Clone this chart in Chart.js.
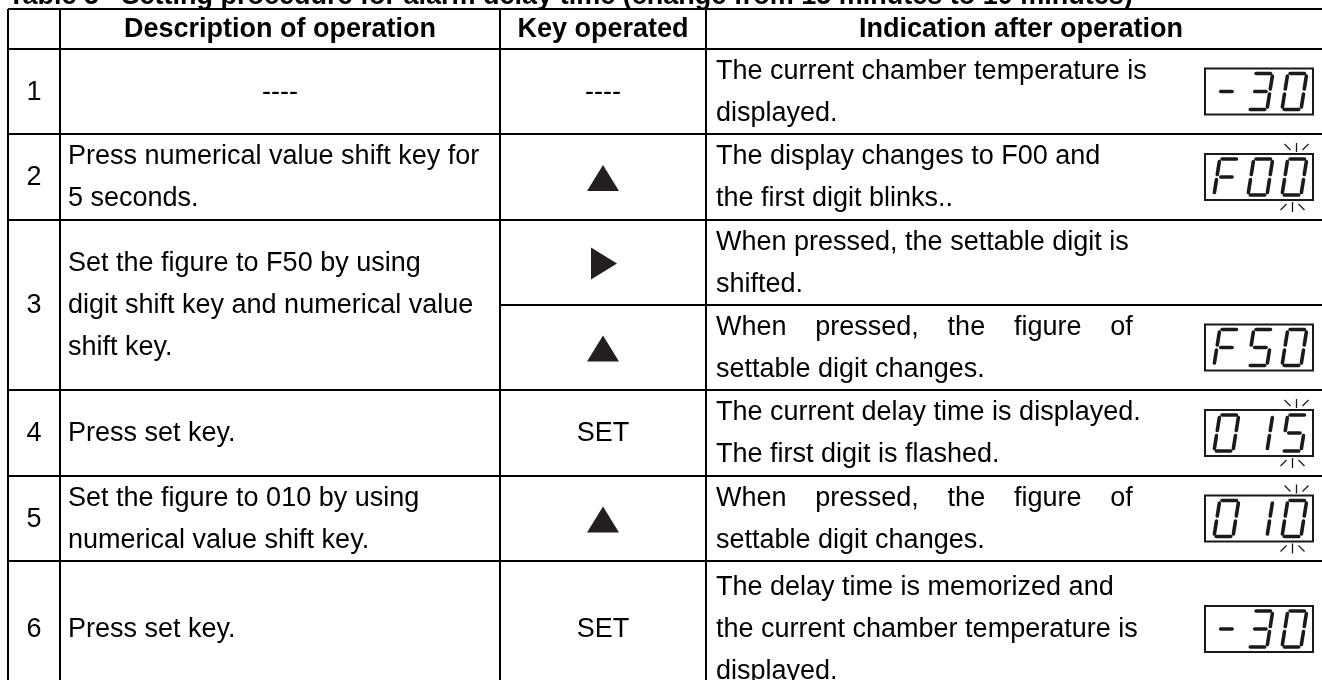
<!DOCTYPE html>
<html>
<head>
<meta charset="utf-8">
<script src="https://cdn.jsdelivr.net/npm/chart.js@4.4.1/dist/chart.umd.min.js"></script>
<style>
  html, body { margin: 0; padding: 0; background: #fff; overflow: hidden; }
</style>
</head>
<body>
<canvas id="table" width="1322" height="680"></canvas>
<script>
// --- table content ---
const titleText = 'Table 5   Setting procedure for alarm delay time (change from 15 minutes to 10 minutes)';
const headers = ['', 'Description of operation', 'Key operated', 'Indication after operation'];
const stepLabels = ['1', '2', '3', '4', '5', '6'];
const operations = [
  ['----'],
  ['Press numerical value shift key for', '5 seconds.'],
  ['Set the figure to F50 by using', 'digit shift key and numerical value', 'shift key.'],
  ['Press set key.'],
  ['Set the figure to 010 by using', 'numerical value shift key.'],
  ['Press set key.']
];
// one entry per sub-row (step 3 is split in two)
const rowSteps = [0, 1, 2, 2, 3, 4, 5];
const keysOperated = ['----', 'up', 'right', 'up', 'SET', 'up', 'SET'];
const indications = [
  ['The current chamber temperature is', 'displayed.'],
  ['The display changes to F00 and', 'the first digit blinks..'],
  ['When pressed, the settable digit is', 'shifted.'],
  ['When pressed, the figure of', 'settable digit changes.'],
  ['The current delay time is displayed.', 'The first digit is flashed.'],
  ['When pressed, the figure of', 'settable digit changes.'],
  ['The delay time is memorized and', 'the current chamber temperature is', 'displayed.']
];
const readings = ['-30', 'F00', '', 'F50', '015', '010', '-30'];
const blinks = [false, true, false, false, true, true, false];
const justifiedLines = ['When pressed, the figure of'];

// --- layout, in scale units (1 unit = 1 px) ---
const colEdges = [8, 60, 500, 706, 1336];
const rowEdges = [9, 49, 134, 220, 305, 390, 476, 561, 697];
const lineGap = 42;
const bodyFont = '27px "Liberation Sans", Arial, sans-serif';
const boldFont = 'bold 27px "Liberation Sans", Arial, sans-serif';

// seven segment layout: [u0, v0, u1, v1], v measured from the bottom
const SEGS = {
  a: [0.12, 1, 0.88, 1], b: [1, 0.93, 1, 0.57], c: [1, 0.43, 1, 0.07],
  d: [0.12, 0, 0.88, 0], e: [0, 0.43, 0, 0.07], f: [0, 0.93, 0, 0.57],
  g: [0.2, 0.5, 0.8, 0.5]
};
const GLYPHS = { '0': 'abcdef', '1': 'bc', '3': 'abcdg', '5': 'acdfg', 'F': 'aefg', '-': 'g', ' ': '' };

function drawDigit(ctx, ch, x0, yb, w, h, slant) {
  const segs = GLYPHS[ch] || '';
  ctx.lineWidth = 3.6;
  ctx.lineCap = 'round';
  for (const s of segs) {
    const [u0, v0, u1, v1] = SEGS[s];
    ctx.beginPath();
    ctx.moveTo(x0 + u0 * w + v0 * h * slant, yb - v0 * h);
    ctx.lineTo(x0 + u1 * w + v1 * h * slant, yb - v1 * h);
    ctx.stroke();
  }
}

function drawReading(ctx, text, blink, xs, ys, cy) {
  const left = xs(1205), right = xs(1313);
  const top = ys(cy - 23), bottom = ys(cy + 23);
  ctx.strokeStyle = '#1a1a1a';
  ctx.lineWidth = 2;
  ctx.strokeRect(left, top, right - left, bottom - top);
  const slots = [1214, 1248, 1282];
  const w = 19, h = 36, slant = 0.16;
  for (let i = 0; i < 3; i++) {
    drawDigit(ctx, text[i], xs(slots[i]), ys(cy + 18), w, h, slant);
  }
  if (blink) {
    const cx = xs(slots[2] + w / 2 + 3);
    ctx.lineWidth = 1.3;
    ctx.lineCap = 'butt';
    const seg = (x1, y1, x2, y2) => { ctx.beginPath(); ctx.moveTo(x1, y1); ctx.lineTo(x2, y2); ctx.stroke(); };
    // rays above
    seg(cx + 2, top - 11, cx + 2, top - 2);
    seg(cx - 10, top - 10, cx - 4, top - 4);
    seg(cx + 14, top - 10, cx + 8, top - 4);
    // rays below
    seg(cx - 2, bottom + 2, cx - 2, bottom + 12);
    seg(cx - 8, bottom + 4, cx - 14, bottom + 10);
    seg(cx + 4, bottom + 4, cx + 10, bottom + 10);
  }
}

function drawKey(ctx, key, cx, cy) {
  ctx.fillStyle = '#231f20';
  if (key === 'up') {
    ctx.beginPath();
    ctx.moveTo(cx - 16, cy + 13); ctx.lineTo(cx + 16, cy + 13); ctx.lineTo(cx, cy - 13);
    ctx.closePath(); ctx.fill();
  } else if (key === 'right') {
    ctx.beginPath();
    ctx.moveTo(cx - 12, cy - 16); ctx.lineTo(cx - 12, cy + 16); ctx.lineTo(cx + 14, cy);
    ctx.closePath(); ctx.fill();
  } else {
    ctx.fillStyle = '#000';
    ctx.font = bodyFont;
    ctx.textAlign = 'center';
    ctx.fillText(key, cx, cy);
  }
}

function drawLines(ctx, lines, x, cy, align, justifyTo) {
  ctx.textAlign = align;
  const y0 = cy - (lines.length - 1) * lineGap / 2;
  lines.forEach((ln, i) => {
    const y = y0 + i * lineGap;
    if (justifyTo && justifiedLines.includes(ln)) {
      const words = ln.split(' ');
      const wordsW = words.reduce((s, wd) => s + ctx.measureText(wd).width, 0);
      const gap = (justifyTo - x - wordsW) / (words.length - 1);
      let cx = x;
      ctx.textAlign = 'left';
      words.forEach(wd => { ctx.fillText(wd, cx, y); cx += ctx.measureText(wd).width + gap; });
      ctx.textAlign = align;
    } else {
      ctx.fillText(ln, x, y);
    }
  });
}

const tablePlugin = {
  id: 'tablePlugin',
  afterDraw(chart) {
    const ctx = chart.ctx;
    const xs = v => chart.scales.x.getPixelForValue(v);
    const ys = v => chart.scales.y.getPixelForValue(v);
    ctx.save();
    ctx.fillStyle = '#000';

    // title (cut off by the top edge)
    ctx.font = boldFont;
    ctx.textAlign = 'left';
    ctx.textBaseline = 'alphabetic';
    ctx.fillText(titleText, xs(8), ys(4));
    ctx.textBaseline = 'middle';

    // header row
    const hy = (rowEdges[0] + rowEdges[1]) / 2 + 1;
    headers.forEach((h, i) => {
      if (!h) return;
      ctx.textAlign = 'center';
      ctx.fillText(h, xs((colEdges[i] + colEdges[i + 1]) / 2), ys(hy));
    });

    // body
    ctx.font = bodyFont;
    const subRows = rowSteps.length;
    const indW = ctx.measureText('When pressed, the settable digit is').width;
    for (let s = 0; s < stepLabels.length; s++) {
      const idx = rowSteps.map((v, i) => v === s ? i : -1).filter(i => i >= 0);
      const top = rowEdges[1 + idx[0]], bot = rowEdges[2 + idx[idx.length - 1]];
      const cy = (top + bot) / 2 + 1;
      ctx.fillStyle = '#000';
      ctx.textAlign = 'center';
      ctx.fillText(stepLabels[s], xs((colEdges[0] + colEdges[1]) / 2), ys(cy));
      const ops = operations[s];
      if (ops.length === 1 && ops[0] === '----') {
        drawLines(ctx, ops, xs((colEdges[1] + colEdges[2]) / 2), ys(cy), 'center');
      } else {
        drawLines(ctx, ops, xs(colEdges[1] + 8), ys(cy), 'left');
      }
    }
    for (let r = 0; r < subRows; r++) {
      const top = rowEdges[1 + r], bot = rowEdges[2 + r];
      const cy = (top + bot) / 2 + 1;
      ctx.font = bodyFont;
      drawKey(ctx, keysOperated[r], xs((colEdges[2] + colEdges[3]) / 2), ys(cy));
      ctx.fillStyle = '#000';
      ctx.font = bodyFont;
      const ix = xs(colEdges[3] + 10);
      drawLines(ctx, indications[r], ix, ys(cy), 'left', ix + indW + 4);
      if (readings[r]) drawReading(ctx, readings[r], blinks[r], xs, ys, (top + bot) / 2);
    }

    // grid lines
    ctx.strokeStyle = '#000';
    ctx.lineWidth = 2;
    ctx.lineCap = 'butt';
    const hline = (y, x1, x2) => { ctx.beginPath(); ctx.moveTo(xs(x1), ys(y)); ctx.lineTo(xs(x2), ys(y)); ctx.stroke(); };
    const vline = (x, y1, y2) => { ctx.beginPath(); ctx.moveTo(xs(x), ys(y1)); ctx.lineTo(xs(x), ys(y2)); ctx.stroke(); };
    const L = colEdges[0], R = colEdges[colEdges.length - 1];
    rowEdges.forEach((y, i) => {
      if (i >= 2 && i <= subRows && rowSteps[i - 2] === rowSteps[i - 1]) {
        hline(y, colEdges[2], R);
      } else {
        hline(y, L, R);
      }
    });
    colEdges.forEach(x => vline(x, rowEdges[0], rowEdges[rowEdges.length - 1]));
    ctx.restore();
  }
};

new Chart(document.getElementById('table'), {
  type: 'scatter',
  data: { datasets: [] },
  options: {
    responsive: false,
    animation: false,
    devicePixelRatio: 1,
    layout: { padding: 0 },
    scales: {
      x: { type: 'linear', min: 0, max: 1322, display: false },
      y: { type: 'linear', min: 0, max: 680, reverse: true, display: false }
    },
    plugins: { legend: { display: false }, tooltip: { enabled: false } }
  },
  plugins: [tablePlugin]
});
</script>
</body>
</html>
